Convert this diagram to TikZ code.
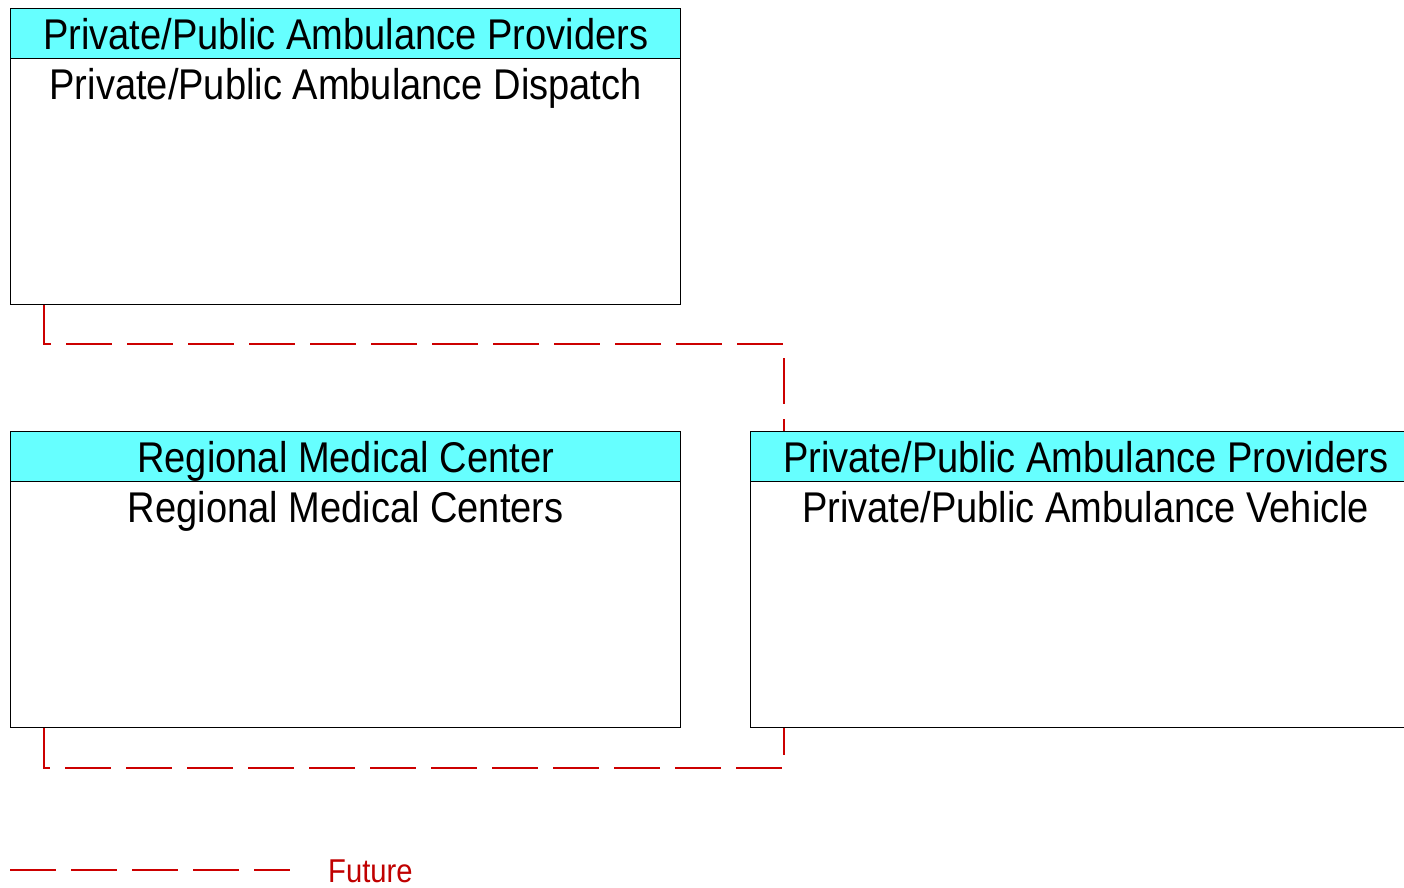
\documentclass[tikz,border=0pt]{standalone}
\usepackage{fontspec}
\setmainfont{Liberation Sans}[FakeStretch=0.885]
\definecolor{hdrcyan}{RGB}{102,255,255}
\definecolor{futred}{RGB}{204,0,0}
\definecolor{futtext}{RGB}{192,0,0}
\begin{document}
\begin{tikzpicture}[x=1pt,y=-1pt,
  boxhdr/.style={draw=black, line width=1.4pt, fill=hdrcyan, minimum width=670pt, minimum height=50pt,
    anchor=north west, inner sep=0pt, text height=31pt, text depth=0pt, font=\fontsize{43}{50}\selectfont},
  boxbody/.style={draw=black, line width=1.4pt, fill=white, minimum width=670pt, minimum height=246pt,
    anchor=north west, inner sep=0pt},
  bodytext/.style={anchor=base, inner sep=0pt, font=\fontsize{43}{50}\selectfont},
  future/.style={draw=futred, line width=1.2pt, dash pattern=on 46pt off 15pt},
]
\useasboundingbox (0,0) rectangle (1404,887);
\clip (0,0) rectangle (1404,887);
% Box 1
\node[boxbody] (b1) at (10,58) {};
\node[boxhdr] (h1) at (10,8) {Private/Public Ambulance Providers};
\node[bodytext] (t1) at ([yshift=-41pt]b1.north) {Private/Public Ambulance Dispatch};
% Box 2
\node[boxbody] (b2) at (10,481) {};
\node[boxhdr] (h2) at (10,431) {Regional Medical Center};
\node[bodytext] (t2) at ([yshift=-41pt]b2.north) {Regional Medical Centers};
% Box 3
\node[boxbody] (b3) at (750,481) {};
\node[boxhdr] (h3) at (750,431) {Private/Public Ambulance Providers};
\node[bodytext] (t3) at ([yshift=-41pt]b3.north) {Private/Public Ambulance Vehicle};
% connectors
\coordinate (c1) at (784,344);
\coordinate (c2) at (784,768);
\draw[future] ([xshift=34pt]b1.south west) |- (c1) -- ([xshift=34pt]h3.north west);
\draw[future] ([xshift=34pt]b2.south west) |- (c2) -- ([xshift=34pt]b3.south west);
% legend
\coordinate (l1) at (10,870);
\coordinate (l2) at (290,870);
\draw[future] (l1) -- (l2);
\node[anchor=base west, inner sep=0pt, text=futtext, font=\fontsize{33}{40}\selectfont] (fut) at (328,882) {Future};
\end{tikzpicture}
\end{document}
